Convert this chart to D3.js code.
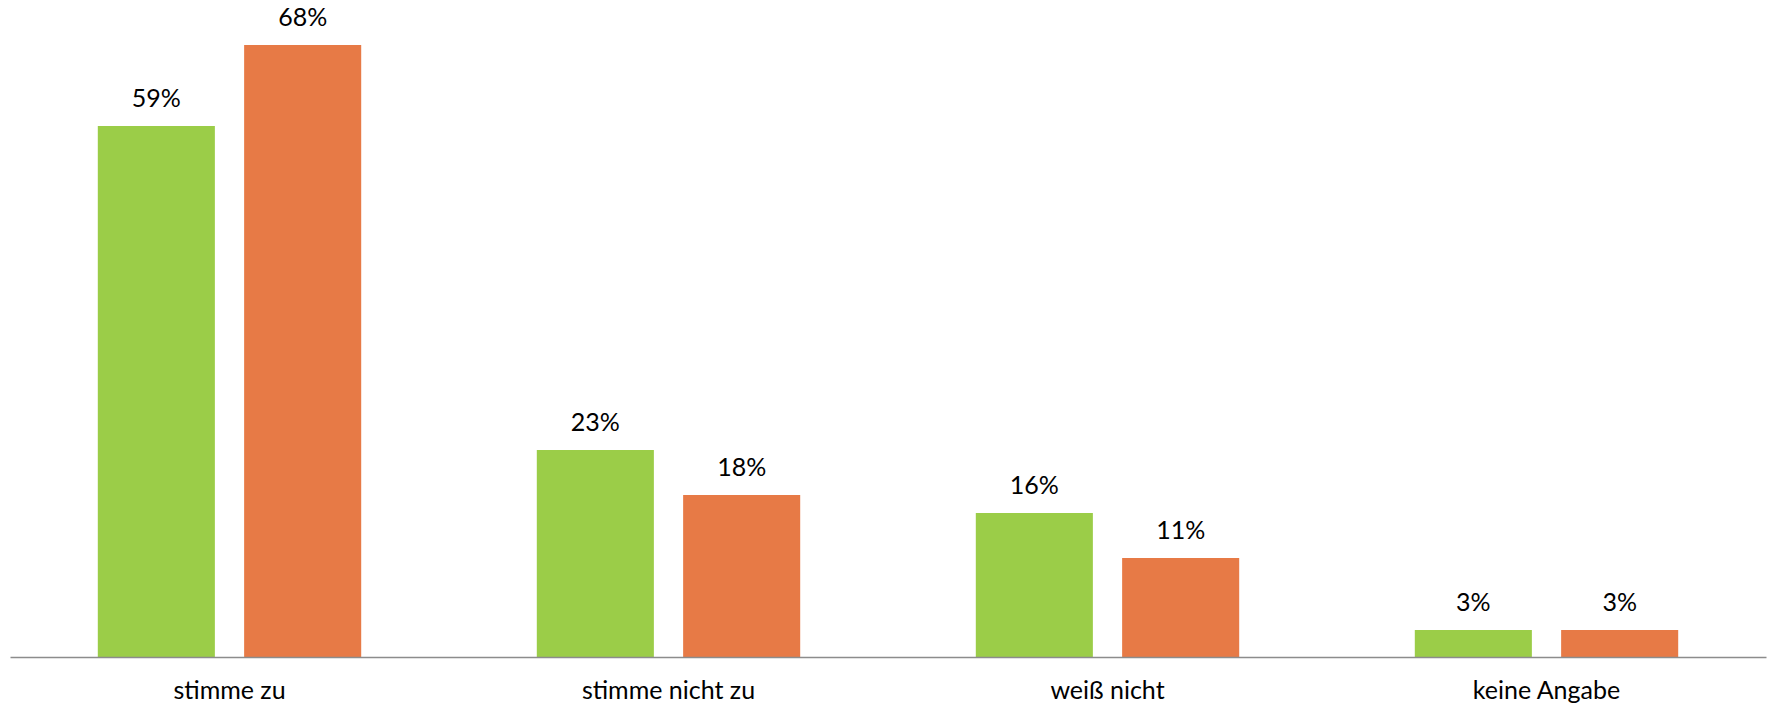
<!DOCTYPE html>
<html>
<head>
<meta charset="utf-8">
<script src="https://cdn.jsdelivr.net/npm/d3@7"></script>
<style>
  html, body { margin: 0; padding: 0; background: #fff; }
  svg text { font-family: Lato, "Open Sans", sans-serif; fill: #000; }
</style>
</head>
<body>
<svg id="chart" width="1769" height="705"></svg>
<script>
// Survey answers, two groups per answer
const categories = ["stimme zu", "stimme nicht zu", "weiß nicht", "keine Angabe"];
const seriesNames = ["Gruppe A", "Gruppe B"];
const seriesA = [59, 23, 16, 3];
const seriesB = [68, 18, 11, 3];
const seriesColors = ["#9BCD48", "#E77A46"];

const data = categories.map((c, i) => ({ category: c, values: [seriesA[i], seriesB[i]] }));

const svg = d3.select("#chart");
const margin = { left: 10, right: 3, top: 0, baseline: 657 };
const width = 1769;

const x0 = d3.scaleBand()
  .domain(categories)
  .range([margin.left, width - margin.right])
  .paddingInner(0.4)
  .paddingOuter(0.2);

const x1 = d3.scaleBand()
  .domain(seriesNames)
  .range([0, x0.bandwidth()])
  .paddingInner(0.2);

const y = d3.scaleLinear()
  .domain([0, 68])
  .range([margin.baseline, 45]);

const groups = svg.append("g")
  .selectAll("g")
  .data(data)
  .join("g")
  .attr("transform", d => `translate(${x0(d.category)},0)`);

groups.selectAll("rect")
  .data(d => d.values.map((v, j) => ({ key: seriesNames[j], value: v, color: seriesColors[j] })))
  .join("rect")
  .attr("x", d => x1(d.key))
  .attr("y", d => y(d.value))
  .attr("width", x1.bandwidth())
  .attr("height", d => y(0) - y(d.value))
  .attr("fill", d => d.color);

groups.selectAll("text.value")
  .data(d => d.values.map((v, j) => ({ key: seriesNames[j], value: v })))
  .join("text")
  .attr("class", "value")
  .attr("x", d => x1(d.key) + x1.bandwidth() / 2)
  .attr("y", d => y(d.value) - 19)
  .attr("text-anchor", "middle")
  .attr("font-size", 25)
  .text(d => d.value + "%");

// category axis along the baseline
const axis = svg.append("g")
  .attr("transform", `translate(0,${margin.baseline})`)
  .call(d3.axisBottom(x0).tickSize(0).tickSizeOuter(0));

axis.select(".domain").attr("stroke", "#8c8c8c").attr("stroke-width", 1.5);
axis.selectAll(".tick text")
  .attr("y", 42)
  .attr("dy", null)
  .attr("font-size", 25)
  .attr("font-family", "Lato, 'Open Sans', sans-serif")
  .attr("fill", "#000");
</script>
</body>
</html>
